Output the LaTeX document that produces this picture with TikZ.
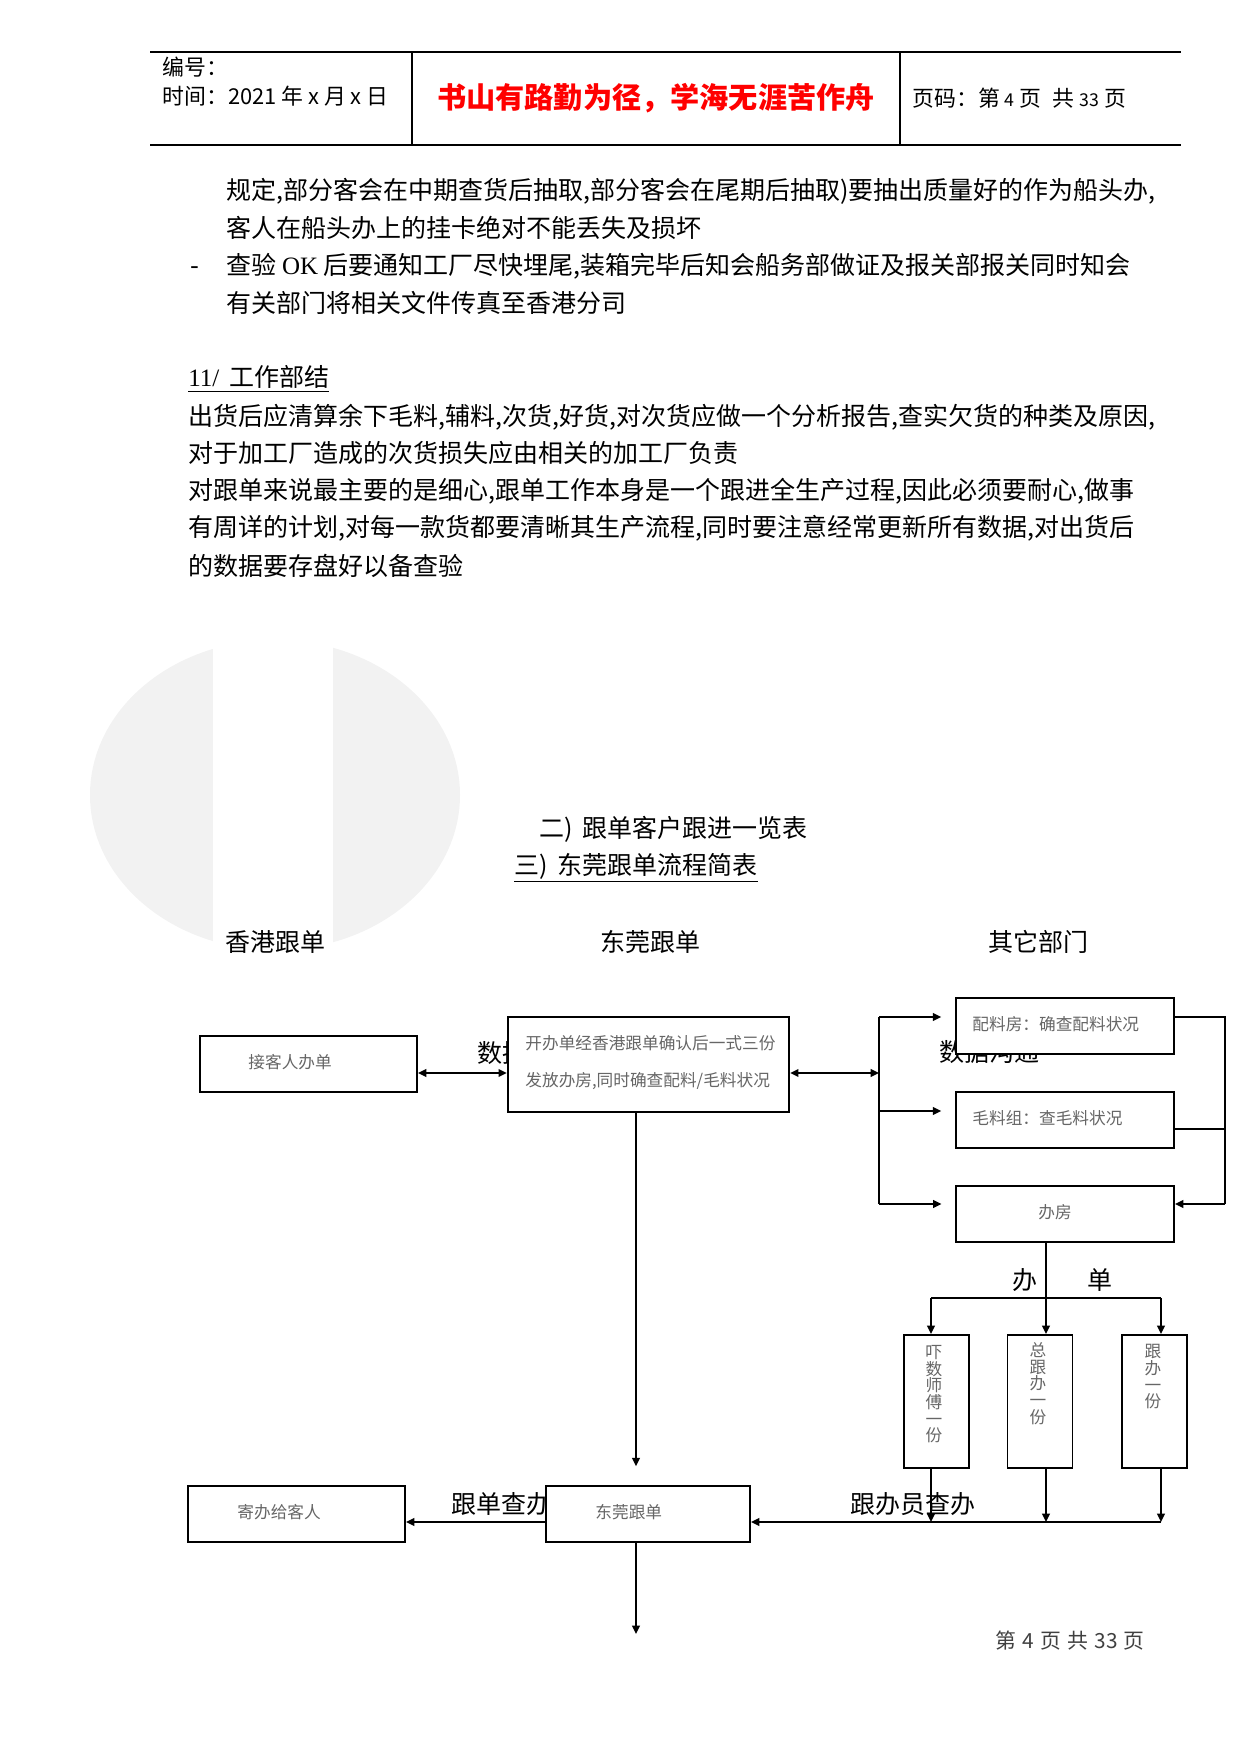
\documentclass[tikz,border=0pt]{standalone}
\usepackage{fontspec}
\setmainfont{Liberation Serif}
\newfontfamily\cjk{Noto Sans CJK SC}
\usetikzlibrary{arrows.meta}

\begin{document}
\begin{tikzpicture}[x=0.48pt, y=-0.48pt,
  every node/.style={inner sep=0pt, font=\cjk\fontsize{12}{14}\selectfont},
  hdtext/.style={anchor=west, font=\cjk\fontsize{10.5}{12}\selectfont},
  bodyline/.style={anchor=west},
  flowbox/.style 2 args={draw, line width=0.9pt, fill=white, minimum width=#1*0.48pt, minimum height=#2*0.48pt},
  boxtext/.style={anchor=west, text=black!60, font=\cjk\fontsize{8}{9}\selectfont},
  vtext/.style={anchor=north, align=center, text=black!60, font=\cjk\fontsize{8}{8}\selectfont},
  flow/.style={line width=1pt},
  tip/.style={-{Triangle[length=4pt, width=3.6pt]}},
  tips/.style={{Triangle[length=4pt, width=3.6pt]}-{Triangle[length=4pt, width=3.6pt]}},
]
\useasboundingbox (0,0) rectangle (1241,1754);

% header table
\draw[line width=0.6pt] (150,52) -- (1181,52);
\draw[line width=0.6pt] (150,145) -- (1181,145);
\draw[line width=0.6pt] (412,52) -- (412,145);
\draw[line width=0.6pt] (900,52) -- (900,145);
\node[hdtext] (bianhao) at (162,67) {编号：};
\node[hdtext] (shijian) at (162,96) {时间：2021 年 x 月 x 日};
\node[text=red, font=\cjk\bfseries\fontsize{14}{16}\selectfont] (motto) at (656,98) {书山有路勤为径，学海无涯苦作舟};
\node[hdtext] (yema) at (912,98) {页码：第 {\fontsize{8.5}{10}\selectfont 4} 页\hspace{0.3em} 共 {\fontsize{8.5}{10}\selectfont 33} 页};

% body text
\node[bodyline] (p1a) at (226,191) {规定,部分客会在中期查货后抽取,部分客会在尾期后抽取)要抽出质量好的作为船头办,};
\node[bodyline] (p1b) at (226,228) {客人在船头办上的挂卡绝对不能丢失及损坏};
\node[bodyline] (dash) at (190,270) {\rmfamily -};
\node[bodyline] (p2a) at (226,266) {查验 {\rmfamily OK} 后要通知工厂尽快埋尾,装箱完毕后知会船务部做证及报关部报关同时知会};
\node[bodyline] (p2b) at (226,303) {有关部门将相关文件传真至香港分司};
\node[bodyline] (sec11) at (188,379) {\underline{{\rmfamily 11/}\hspace{0.4em}工作部结}};
\node[bodyline] (p3a) at (188,417) {出货后应清算余下毛料,辅料,次货,好货,对次货应做一个分析报告,查实欠货的种类及原因,};
\node[bodyline] (p3b) at (188,453) {对于加工厂造成的次货损失应由相关的加工厂负责};
\node[bodyline] (p4a) at (188,491) {对跟单来说最主要的是细心,跟单工作本身是一个跟进全生产过程,因此必须要耐心,做事};
\node[bodyline] (p4b) at (188,528) {有周详的计划,对每一款货都要清晰其生产流程,同时要注意经常更新所有数据,对出货后};
\node[bodyline] (p4c) at (188,566) {的数据要存盘好以备查验};

% watermark
\fill[black!5] (275,795) ellipse [x radius=185, y radius=155];
\fill[white] (213,630) rectangle (333,960);

% titles
\node[bodyline] (title2) at (539,829) {二)\hspace{0.4em}跟单客户跟进一览表};
\node[bodyline] (title3) at (514,868) {\underline{三)\hspace{0.4em}东莞跟单流程简表}};
\node (colhk) at (275,942) {香港跟单};
\node (coldg) at (650,942) {东莞跟单};
\node (colqt) at (1038,942) {其它部门};

% labels under the boxes
\node[bodyline] (gouA) at (477,1053) {数据沟通};
\node[bodyline] (gouB) at (939,1052) {数据沟通};
\node[bodyline] (chaA) at (451,1504) {跟单查办};
\node[bodyline] (chaB) at (850,1504) {跟办员查办};
\node (ban) at (1025,1280) {办};
\node (dan) at (1100,1280) {单};

% boxes
\node[flowbox={217}{56}] (kehu) at (308.5,1064) {};
\node[flowbox={281}{95}, line width=1.1pt] (kaidan) at (648.5,1064.5) {};
\node[flowbox={218}{56}, line width=1.1pt] (peiliao) at (1065,1026) {};
\node[flowbox={218}{56}, line width=1.1pt] (maoliao) at (1065,1120) {};
\node[flowbox={218}{56}] (banfang) at (1065,1214) {};
\node[flowbox={65}{133}] (v1) at (936.5,1401.5) {};
\node[flowbox={65}{133}] (v2) at (1040,1401.5) {};
\node[flowbox={65}{133}] (v3) at (1154.5,1401.5) {};
\node[flowbox={217}{56}] (jiban) at (296.5,1514) {};
\node[flowbox={204}{56}] (dongguan) at (648,1514) {};

\node[boxtext] (kehuT) at (248,1062) {接客人办单};
\node[boxtext] (kaidanT) at (525,1043) {开办单经香港跟单确认后一式三份};
\node[boxtext] (kaidanU) at (525,1081) {发放办房,同时确查配料/毛料状况};
\node[boxtext] (peiliaoT) at (972,1024) {配料房：确查配料状况};
\node[boxtext] (maoliaoT) at (972,1118) {毛料组：查毛料状况};
\node[boxtext, anchor=center] (banfangT) at (1055,1212) {办房};
\node[vtext] (v1T) at (934,1345) {吓\\数\\师\\傅\\一\\份};
\node[vtext] (v2T) at (1038,1342) {总\\跟\\办\\一\\份};
\node[vtext] (v3T) at (1153,1344) {跟\\办\\一\\份};
\node[boxtext] (jibanT) at (237,1512) {寄办给客人};
\node[boxtext] (dongguanT) at (595,1512) {东莞跟单};

% connectors
\coordinate (split) at (879,1073);
\coordinate (jA) at (879,1017);
\coordinate (jB) at (879,1111);
\coordinate (jC) at (879,1204);
\coordinate (rA) at (1225,1017);
\coordinate (rB) at (1225,1129);
\coordinate (rC) at (1225,1204);
\coordinate (fork) at (1046,1298);
\coordinate (forkL) at (931,1298);
\coordinate (forkR) at (1161,1298);
\coordinate (joinL) at (931,1522);
\coordinate (joinM) at (1046,1522);
\coordinate (joinR) at (1161,1522);
\coordinate (down) at (636,1634);

\draw[flow, tips] (kehu.east |- split) -- (kaidan.west |- split);
\draw[flow, tips] (kaidan.east |- split) -- (split);
\draw[flow] (jA) -- (jC);
\draw[flow, tip, shorten >=6.5pt] (jA) -- (jA -| peiliao.west);
\draw[flow, tip, shorten >=6.5pt] (jB) -- (jB -| maoliao.west);
\draw[flow, tip, shorten >=6.5pt] (jC) -- (jC -| banfang.west);
\draw[flow] (jA -| peiliao.east) -- (rA) -- (rC);
\draw[line width=0.5pt] (rB -| maoliao.east) -- (rB);
\draw[flow, tip] (rC) -- (rC -| banfang.east);
\draw[flow] (banfang.south -| fork) -- (fork);
\draw[flow] (forkL) -- (forkR);
\draw[flow, tip] (forkL) -- (forkL |- v1.north);
\draw[flow, tip] (fork) -- (fork |- v2.north);
\draw[flow, tip] (forkR) -- (forkR |- v3.north);
\draw[flow, tip] (v1.south -| joinL) -- (joinL);
\draw[flow, tip] (v2.south -| joinM) -- (joinM);
\draw[flow, tip] (v3.south -| joinR) -- (joinR);
\draw[flow, tip] (joinR) -- (joinR -| dongguan.east);
\draw[flow, tip] (dongguan.west |- joinL) -- (jiban.east |- joinL);
\draw[flow, tip, shorten >=9pt] (kaidan.south -| down) -- (dongguan.north -| down);
\draw[flow, tip] (dongguan.south -| down) -- (down);

% footer
\node[anchor=west, text=black!75, font=\cjk\fontsize{10}{12}\selectfont] (footer) at (995,1641) {第\hspace{0.3em}4\hspace{0.3em}页\hspace{0.3em}共\hspace{0.3em}33\hspace{0.3em}页};
\end{tikzpicture}
\end{document}
